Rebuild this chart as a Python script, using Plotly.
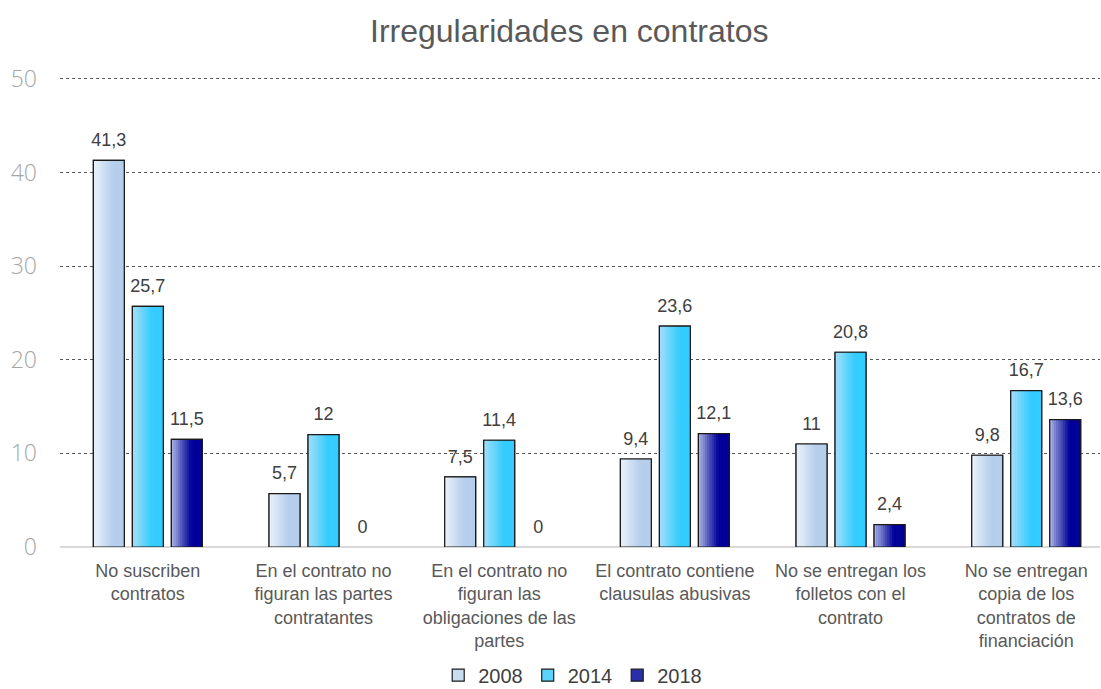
import plotly.graph_objects as go

# data
categories = [
    "No suscriben<br>contratos",
    "En el contrato no<br>figuran las partes<br>contratantes",
    "En el contrato no<br>figuran las<br>obligaciones de las<br>partes",
    "El contrato contiene<br>clausulas abusivas",
    "No se entregan los<br>folletos con el<br>contrato",
    "No se entregan<br>copia de los<br>contratos de<br>financiación",
]
years = ["2008", "2014", "2018"]
v2008 = [41.3, 5.7, 7.5, 9.4, 11.0, 9.8]
v2014 = [25.7, 12.0, 11.4, 23.6, 20.8, 16.7]
v2018 = [11.5, 0.0, 0.0, 12.1, 2.4, 13.6]
series = [v2008, v2014, v2018]

# gradient ends (left -> right) for each year
grad = [((232, 241, 250), (180, 206, 235)),
        ((160, 222, 248), (51, 204, 255)),
        ((165, 175, 225), (0, 0, 153))]
mid_col = ["#C9DDF2", "#5CD3FD", "#2A2FA8"]
offsets = [-0.31, -0.088, 0.134]
bar_w = 0.176
n_slices = 14
FONT = "Liberation Sans, Arial"

x_idx = list(range(len(categories)))


def fmt(v):
    s = ("%.1f" % v).rstrip("0").rstrip(".")
    return s.replace(".", ",")


def mix(a, b, t):
    return "rgb(%d,%d,%d)" % tuple(round(a[k] + (b[k] - a[k]) * t) for k in range(3))


fig = go.Figure()

for i, (yr, vals) in enumerate(zip(years, series)):
    # no outline on empty bars (otherwise a dark stub shows on the axis)
    lw = [1.2 if v > 0 else 0 for v in vals]
    # base bar, carries the legend entry
    fig.add_trace(go.Bar(
        x=x_idx, y=vals, name=yr, offset=offsets[i], width=bar_w,
        marker=dict(color=mid_col[i], line=dict(color="#1a1a1a", width=lw)),
        hoverinfo="skip",
    ))
    # horizontal gradient made of thin slices
    step = bar_w / n_slices
    for s in range(n_slices):
        t = min(1.0, (s / (n_slices - 1)) / 0.65)
        fig.add_trace(go.Bar(
            x=x_idx, y=vals, offset=offsets[i] + s * step,
            width=step * 1.15 if s < n_slices - 1 else step,
            marker=dict(color=mix(grad[i][0], grad[i][1], t), line=dict(width=0)),
            showlegend=False, hoverinfo="skip",
        ))
    # outline
    fig.add_trace(go.Bar(
        x=x_idx, y=vals, offset=offsets[i], width=bar_w,
        marker=dict(color="rgba(0,0,0,0)", line=dict(color="#1a1a1a", width=lw)),
        showlegend=False, hoverinfo="skip",
    ))
    # value labels above the bars
    fig.add_trace(go.Scatter(
        x=[k + offsets[i] + bar_w / 2 for k in x_idx], y=vals,
        mode="markers+text", text=[fmt(v) for v in vals], textposition="top center",
        marker=dict(size=14, color="rgba(0,0,0,0)"),
        textfont=dict(family=FONT, size=18, color="#404040"),
        cliponaxis=False, showlegend=False, hoverinfo="skip",
    ))

fig.update_layout(
    width=1101, height=689,
    barmode="overlay",
    plot_bgcolor="white", paper_bgcolor="white",
    margin=dict(l=60, r=1, t=77, b=142),
    title=dict(text="Irregularidades en contratos", x=0.517, xanchor="center",
               y=0.956, yanchor="middle",
               font=dict(family=FONT, size=32, color="#595959")),
    xaxis=dict(
        tickmode="array", tickvals=x_idx, ticktext=categories,
        range=[-0.5, 5.42], showgrid=False, ticks="", automargin=False,
        tickfont=dict(family=FONT, size=18, color="#595959"),
        ticklabelstandoff=11,
    ),
    yaxis=dict(
        range=[0, 50.2], tickvals=[0, 10, 20, 30, 40, 50], showgrid=True,
        gridcolor="#595959", griddash="dot", gridwidth=1,
        zeroline=True, zerolinecolor="#D9D9D9", zerolinewidth=2,
        tickfont=dict(family="Open Sans", size=23, color="#A6A6A6", weight=300),
        ticklabelstandoff=22, automargin=False,
    ),
    legend=dict(orientation="h", x=0.493, xanchor="center",
                yref="container", y=0.02, yanchor="middle",
                font=dict(family=FONT, size=20, color="#404040"),
                itemwidth=30, tracegroupgap=0),
    showlegend=True,
)

# drop the default 8px body margin so the figure sits at the page corner
fig.write_html("out.html", config={"displayModeBar": False},
               post_script="document.body.style.margin='0';")
